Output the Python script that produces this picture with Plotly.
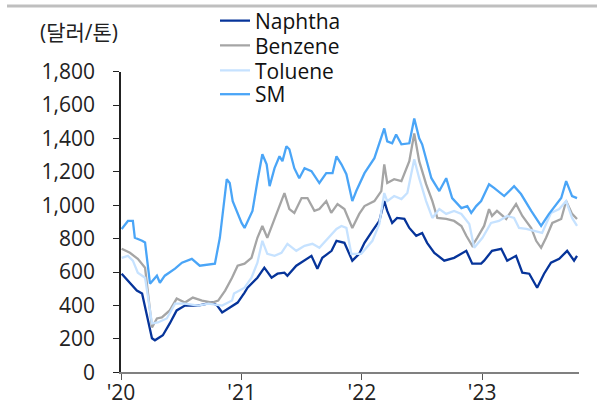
import plotly.graph_objects as go

# Prices (USD/ton)
naphtha_dates = [
    "2020-01-03", "2020-01-28", "2020-02-18", "2020-03-05", "2020-03-20", "2020-04-04", "2020-04-13",
    "2020-05-07", "2020-05-28", "2020-06-18", "2020-07-13", "2020-08-22", "2020-10-04", "2020-10-19",
    "2020-11-03", "2020-11-26", "2020-12-20", "2021-01-10", "2021-01-19", "2021-02-18", "2021-03-11",
    "2021-04-02", "2021-04-20", "2021-05-11", "2021-05-20", "2021-06-16", "2021-07-17", "2021-08-01",
    "2021-08-19", "2021-09-03", "2021-10-01", "2021-10-16", "2021-11-09", "2021-12-03", "2021-12-24",
    "2022-01-09", "2022-02-02", "2022-02-23", "2022-03-10", "2022-03-19", "2022-04-03", "2022-04-18",
    "2022-05-10", "2022-05-25", "2022-06-15", "2022-07-03", "2022-07-18", "2022-08-09", "2022-09-08",
    "2022-10-08", "2022-11-14", "2022-12-02", "2022-12-29", "2023-01-07", "2023-01-31", "2023-02-28",
    "2023-03-18", "2023-04-14", "2023-05-03", "2023-05-24", "2023-06-17", "2023-07-08", "2023-07-29",
    "2023-08-23", "2023-09-16", "2023-10-07", "2023-10-16",
]
naphtha = [
    590, 536, 489, 471, 328, 203, 191,
    221, 292, 370, 399, 399, 417, 399,
    358, 387, 417, 477, 506, 566, 626,
    566, 590, 596, 578, 638, 679, 697,
    620, 685, 727, 787, 775, 668, 709,
    775, 846, 906, 1025, 966, 894, 924,
    918, 864, 817, 834, 775, 715, 668,
    685, 727, 650, 650, 668, 727, 739,
    668, 697, 596, 590, 506, 590, 656,
    679, 727, 668, 697,
]

benzene_dates = [
    "2020-01-03", "2020-01-28", "2020-02-21", "2020-03-14", "2020-04-04", "2020-04-19", "2020-05-04",
    "2020-05-28", "2020-06-18", "2020-07-13", "2020-08-06", "2020-09-03", "2020-10-04", "2020-10-22",
    "2020-11-12", "2020-12-03", "2020-12-20", "2021-01-10", "2021-01-31", "2021-02-18", "2021-03-05",
    "2021-03-20", "2021-04-11", "2021-04-26", "2021-05-11", "2021-05-26", "2021-06-10", "2021-07-02",
    "2021-07-20", "2021-08-10", "2021-08-25", "2021-09-15", "2021-09-30", "2021-10-19", "2021-11-09",
    "2021-12-03", "2021-12-24", "2022-01-09", "2022-02-08", "2022-03-01", "2022-03-10", "2022-03-19",
    "2022-04-09", "2022-05-01", "2022-05-25", "2022-06-09", "2022-06-24", "2022-07-15", "2022-08-03",
    "2022-08-18", "2022-09-14", "2022-10-08", "2022-10-30", "2022-11-14", "2022-12-02", "2022-12-17",
    "2023-01-07", "2023-01-22", "2023-01-31", "2023-02-15", "2023-03-15", "2023-04-14", "2023-05-03",
    "2023-05-30", "2023-06-14", "2023-06-29", "2023-07-14", "2023-08-02", "2023-08-29", "2023-09-13",
    "2023-10-01", "2023-10-16",
]
benzene = [
    739, 715, 679, 626, 268, 322, 328,
    370, 441, 417, 447, 429, 417, 429,
    489, 566, 638, 650, 685, 805, 876,
    805, 918, 995, 1073, 977, 954, 1043,
    1043, 966, 977, 1025, 954, 1007, 977,
    864, 948, 995, 1025, 1085, 1245, 1133,
    1156, 1144, 1264, 1430, 1264, 1126, 1025,
    924, 918, 906, 876, 817, 757, 805,
    876, 977, 936, 966, 918, 1007, 936,
    864, 787, 745, 805, 894, 918, 1025,
    948, 918,
]

toluene_dates = [
    "2020-01-03", "2020-01-22", "2020-02-06", "2020-02-21", "2020-03-14", "2020-04-04", "2020-04-22",
    "2020-05-19", "2020-06-13", "2020-07-13", "2020-08-22", "2020-09-22", "2020-11-03", "2020-12-03",
    "2020-12-09", "2021-01-10", "2021-01-31", "2021-02-18", "2021-03-05", "2021-03-20", "2021-04-11",
    "2021-05-02", "2021-05-20", "2021-06-16", "2021-07-11", "2021-08-04", "2021-08-25", "2021-09-18",
    "2021-10-16", "2021-10-31", "2021-11-15", "2021-11-30", "2021-12-30", "2022-02-02", "2022-02-23",
    "2022-03-10", "2022-03-19", "2022-04-09", "2022-05-01", "2022-05-19", "2022-06-09", "2022-06-24",
    "2022-07-15", "2022-08-03", "2022-08-24", "2022-09-14", "2022-10-08", "2022-10-30", "2022-11-23",
    "2022-12-08", "2023-01-02", "2023-01-28", "2023-02-21", "2023-03-18", "2023-04-08", "2023-04-23",
    "2023-05-15", "2023-06-08", "2023-07-02", "2023-07-29", "2023-08-23", "2023-09-13", "2023-10-01",
    "2023-10-16",
]
toluene = [
    685, 697, 668, 596, 566, 292, 298,
    322, 411, 411, 399, 411, 399, 429,
    471, 506, 566, 656, 787, 709, 697,
    715, 769, 727, 757, 769, 745, 799,
    858, 876, 864, 709, 709, 787, 888,
    1073, 1025, 1055, 1037, 1073, 1275, 1162,
    1025, 924, 977, 948, 966, 948, 888,
    745, 805, 894, 906, 936, 924, 864,
    858, 846, 834, 954, 977, 1025, 924,
    876,
]

sm_dates = [
    "2020-01-03", "2020-01-22", "2020-02-06", "2020-02-12", "2020-03-05", "2020-03-14", "2020-03-29",
    "2020-04-19", "2020-04-28", "2020-05-13", "2020-06-13", "2020-07-04", "2020-08-03", "2020-08-27",
    "2020-10-12", "2020-10-27", "2020-11-17", "2020-11-26", "2020-12-05", "2021-01-01", "2021-01-10",
    "2021-01-19", "2021-02-03", "2021-02-18", "2021-03-05", "2021-03-18", "2021-03-27", "2021-04-11",
    "2021-04-26", "2021-05-05", "2021-05-17", "2021-05-26", "2021-06-10", "2021-06-25", "2021-07-11",
    "2021-08-01", "2021-08-25", "2021-09-15", "2021-10-04", "2021-10-16", "2021-10-31", "2021-11-15",
    "2021-12-03", "2021-12-15", "2022-01-02", "2022-01-09", "2022-02-08", "2022-03-10", "2022-03-19",
    "2022-04-03", "2022-04-15", "2022-05-01", "2022-05-25", "2022-06-09", "2022-06-24", "2022-07-03",
    "2022-07-31", "2022-08-24", "2022-09-14", "2022-10-02", "2022-10-30", "2022-11-17", "2022-11-29",
    "2022-12-14", "2022-12-29", "2023-01-22", "2023-02-07", "2023-03-09", "2023-04-08", "2023-04-29",
    "2023-05-30", "2023-06-29", "2023-07-23", "2023-08-14", "2023-08-29", "2023-09-13", "2023-10-01",
    "2023-10-16",
]
sm = [
    858, 906, 906, 805, 787, 777, 530,
    578, 536, 578, 620, 656, 679, 638,
    650, 805, 1156, 1133, 1025, 894, 864,
    906, 966, 1144, 1305, 1245, 1114, 1222,
    1293, 1264, 1353, 1335, 1222, 1162, 1222,
    1204, 1133, 1192, 1192, 1293, 1245, 1186,
    1025, 1085, 1162, 1192, 1282, 1460, 1383,
    1371, 1424, 1365, 1371, 1520, 1401, 1365,
    1162, 1085, 1162, 1043, 983, 995, 954,
    995, 1025, 1126, 1103, 1055, 1114, 1067,
    966, 876, 948, 1007, 1043, 1144, 1055,
    1043,
]

year_ticks = ["2020-01-01", "2021-01-01", "2022-01-01", "2023-01-01"]
year_labels = ["'20", "'21", "'22", "'23"]
y_ticks = [0, 200, 400, 600, 800, 1000, 1200, 1400, 1600, 1800]

FONT = "Open Sans, Noto Sans CJK KR, sans-serif"
W, H = 597, 415

fig = go.Figure()
series = [
    ("Naphtha", naphtha_dates, naphtha, "#06349a"),
    ("Benzene", benzene_dates, benzene, "#a5a5a5"),
    ("Toluene", toluene_dates, toluene, "#c6e2ff"),
    ("SM", sm_dates, sm, "#4aa5f7"),
]
# one legend per series so the rows can sit tight like the original
legend_ids = ["legend", "legend2", "legend3", "legend4"]
legend_rows = [19, 44, 69, 93]  # row centres, px from top
legends = {}
for (name, xs, ys, color), lid, row in zip(series, legend_ids, legend_rows):
    fig.add_trace(go.Scatter(
        x=xs, y=ys, mode="lines", name=name, legend=lid,
        line=dict(color=color, width=2.3),
    ))
    legends[lid] = dict(
        x=215 / W, y=1 - row / H, xanchor="left", yanchor="middle",
        bgcolor="rgba(0,0,0,0)", font=dict(size=21, color="#111111"),
    )

fig.update_layout(
    width=W, height=H,
    margin=dict(l=0, r=0, t=0, b=0),
    paper_bgcolor="white", plot_bgcolor="white",
    font=dict(family=FONT, size=21, color="#222222"),
    showlegend=True,
    **legends,
    xaxis=dict(
        domain=[121 / W, 579 / W], automargin=False,
        type="date", range=["2020-01-01", "2023-10-22"],
        tickvals=year_ticks, ticktext=year_labels,
        ticks="outside", ticklen=6, tickcolor="#555555",
        showline=True, linecolor="#808080", linewidth=2,
        showgrid=False, zeroline=False, ticklabelstandoff=-5,
    ),
    yaxis=dict(
        domain=[43 / H, 345 / H], automargin=False,
        range=[0, 1800], tickvals=y_ticks, tickformat=",",
        ticks="outside", ticklen=6, tickcolor="#222222",
        showline=True, linecolor="#222222", linewidth=1.5,
        showgrid=False, zeroline=False, ticklabelstandoff=14,
    ),
    annotations=[dict(
        text="(달러/톤)", xref="paper", yref="paper",
        x=79 / W, y=1 - 30 / H, xanchor="center", yanchor="middle",
        showarrow=False, font=dict(size=21),
    )],
    shapes=[dict(
        type="line", xref="paper", yref="paper",
        x0=7 / W, x1=1, y0=1 - 4 / H, y1=1 - 4 / H,
        line=dict(color="#bfbfbf", width=3),
    )],
)

# drop the page's default body margin so the figure fills the window
fig.write_html(
    "out.html",
    config={"displayModeBar": False},
    post_script="document.body.style.margin = '0';",
)
